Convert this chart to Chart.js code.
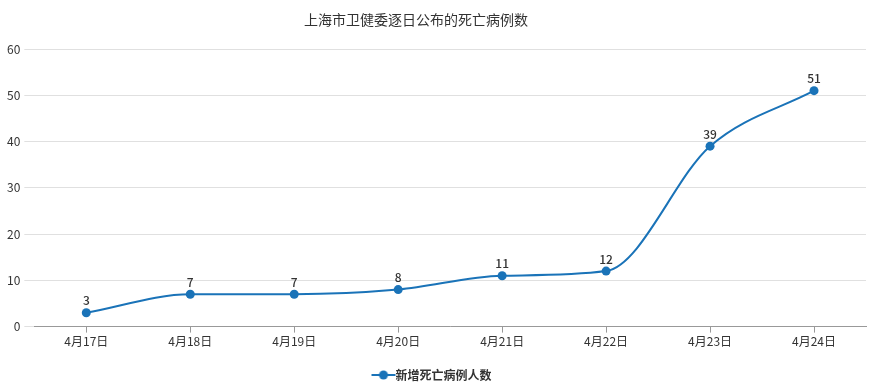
<!DOCTYPE html>
<html>
<head>
<meta charset="utf-8">
<script src="https://cdn.jsdelivr.net/npm/chart.js@4"></script>
<style>
  html, body { margin: 0; padding: 0; background: #fff; }
  #wrap { width: 871px; height: 391px; position: relative; }
</style>
</head>
<body>
<div id="wrap"><canvas id="deathChart"></canvas></div>
<script>
var chartTitle = '上海市卫健委逐日公布的死亡病例数';
var seriesName = '新增死亡病例人数';
var dates = ['4月17日', '4月18日', '4月19日', '4月20日', '4月21日', '4月22日', '4月23日', '4月24日'];
var deaths = [3, 7, 7, 8, 11, 12, 39, 51];
var yTicks = [0, 10, 20, 30, 40, 50, 60];

var lineColor = '#1a73b8';
var fontFam = '"Noto Sans CJK SC", "Noto Sans", sans-serif';

// legend marker: short line with a dot in the middle
var marker = document.createElement('canvas');
marker.width = 26; marker.height = 12;
var mctx = marker.getContext('2d');
mctx.strokeStyle = lineColor; mctx.lineWidth = 2;
mctx.beginPath(); mctx.moveTo(1, 6); mctx.lineTo(25, 6); mctx.stroke();
mctx.fillStyle = lineColor;
mctx.beginPath(); mctx.arc(13, 6, 4.5, 0, Math.PI * 2); mctx.fill();

// title sits a little left of centre, like the original
var titleText = {
  id: 'titleText',
  afterDraw: function(chart) {
    var ctx = chart.ctx;
    ctx.save();
    ctx.font = '14px ' + fontFam;
    ctx.fillStyle = '#333';
    ctx.textAlign = 'center';
    ctx.textBaseline = 'middle';
    ctx.fillText(chartTitle, 416, 20);
    ctx.restore();
  }
};

// values above each point
var valueLabels = {
  id: 'valueLabels',
  afterDatasetsDraw: function(chart) {
    var ctx = chart.ctx;
    var meta = chart.getDatasetMeta(0);
    ctx.save();
    ctx.font = '500 12px ' + fontFam;
    ctx.fillStyle = '#333';
    ctx.textAlign = 'center';
    ctx.textBaseline = 'bottom';
    meta.data.forEach(function(pt, i) {
      ctx.fillText(deaths[i], pt.x, pt.y - 6);
    });
    ctx.restore();
  }
};

new Chart(document.getElementById('deathChart'), {
  type: 'line',
  data: {
    labels: dates,
    datasets: [{
      label: seriesName,
      data: deaths,
      borderColor: lineColor,
      backgroundColor: lineColor,
      borderWidth: 2,
      pointRadius: 4.5,
      pointHoverRadius: 5,
      pointBackgroundColor: lineColor,
      pointBorderWidth: 0,
      cubicInterpolationMode: 'monotone',
      pointStyle: 'circle'
    }]
  },
  options: {
    responsive: true,
    maintainAspectRatio: false,
    animation: false,
    layout: { padding: { left: 3, right: 5, top: 49, bottom: 0 } },
    plugins: {
      title: { display: false },
      legend: {
        position: 'bottom',
        labels: {
          usePointStyle: true,
          pointStyle: marker,
          color: '#333',
          font: { family: fontFam, size: 12, weight: 'bold' },
          padding: 11
        }
      },
      tooltip: { enabled: false }
    },
    scales: {
      x: {
        offset: true,
        afterFit: function(axis) { axis.height += 7; },
        grid: { display: true, offset: false, drawOnChartArea: false, tickLength: 6, color: '#999' },
        border: { color: '#999' },
        ticks: { color: '#333', font: { family: fontFam, size: 12 }, padding: 2, maxRotation: 0 }
      },
      y: {
        min: 0,
        max: 60,
        afterBuildTicks: function(axis) {
          axis.ticks = yTicks.map(function(v) { return { value: v }; });
        },
        grid: { color: '#e0e0e0', tickLength: 10, tickColor: '#e0e0e0' },
        border: { display: false },
        ticks: { color: '#333', font: { family: fontFam, size: 12 }, padding: 4 }
      }
    }
  },
  plugins: [valueLabels, titleText]
});
</script>
</body>
</html>
